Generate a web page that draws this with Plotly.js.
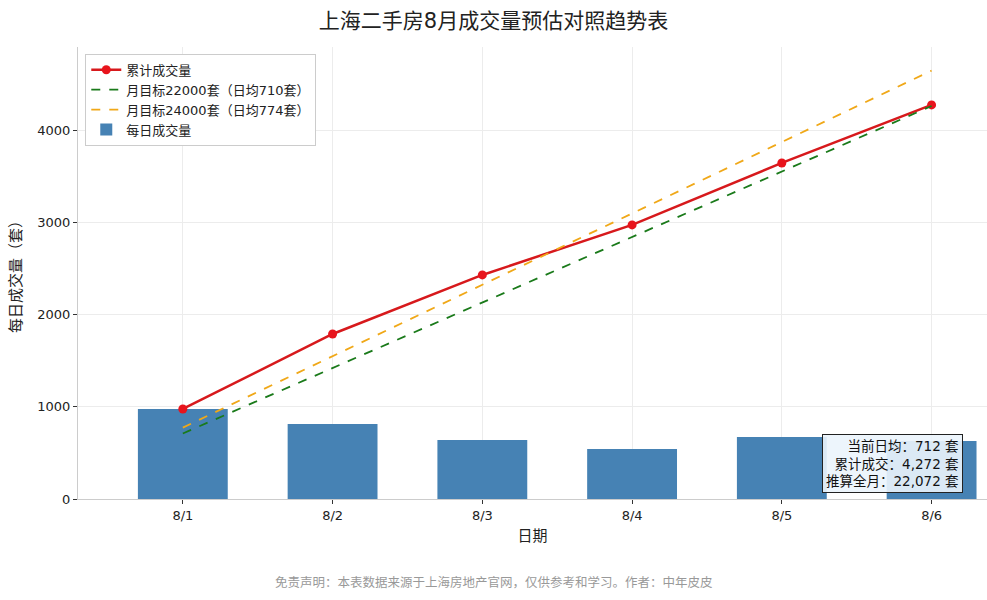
<!DOCTYPE html>
<html>
<head>
<meta charset="utf-8">
<script src="https://cdn.plot.ly/plotly-3.0.1.min.js"></script>
<style>
  html, body { margin: 0; padding: 0; background: #fff; }
  #chart { width: 987px; height: 600px; }
</style>
</head>
<body>
<div id="chart"></div>
<script>
const dates = ['8/1', '8/2', '8/3', '8/4', '8/5', '8/6'];
const dailyDeals = [976, 813, 640, 542, 672, 629];
const cumulativeDeals = [976, 1789, 2429, 2971, 3643, 4272];
const target22000 = [710, 1420, 2130, 2840, 3550, 4260];
const target24000 = [774, 1548, 2322, 3096, 3870, 4644];
const yTicks = [0, 1000, 2000, 3000, 4000];

const font = 'DejaVu Sans, "Noto Sans CJK SC", sans-serif';

const data = [
    {
        x: dates, y: cumulativeDeals,
        name: '累计成交量',
        type: 'scatter', mode: 'lines+markers',
        line: { color: '#d7191c', width: 2.5 },
        marker: { color: '#e8141c', size: 9 }
    },
    {
        x: dates, y: target22000,
        name: '月目标22000套（日均710套）',
        type: 'scatter', mode: 'lines',
        line: { color: '#1a7a1a', width: 1.8, dash: 'dash' }
    },
    {
        x: dates, y: target24000,
        name: '月目标24000套（日均774套）',
        type: 'scatter', mode: 'lines',
        line: { color: '#f0a818', width: 1.8, dash: 'dash' }
    },
    {
        x: dates, y: dailyDeals,
        name: '每日成交量',
        type: 'bar', width: 0.6,
        marker: { color: '#4682b4' }
    }
];

const layout = {
    width: 987, height: 600,
    margin: { l: 78, r: 0, t: 47, b: 101 },
    paper_bgcolor: '#fff',
    plot_bgcolor: '#fff',
    font: { family: font, size: 13, color: '#222' },
    title: {
        text: '上海二手房8月成交量预估对照趋势表',
        font: { size: 21, color: '#222' },
        x: 0.5, xanchor: 'center', y: 0.965, yanchor: 'middle'
    },
    xaxis: {
        type: 'category',
        range: [-0.7, 5.37],
        title: { text: '日期', font: { size: 15 }, standoff: 8 },
        showgrid: true, gridcolor: '#ececec',
        showline: true, linecolor: '#cccccc', linewidth: 1,
        ticks: 'outside', ticklen: 4, tickcolor: '#333',
        zeroline: false
    },
    yaxis: {
        range: [0, 4900],
        tickvals: yTicks,
        title: { text: '每日成交量（套）', font: { size: 15 }, standoff: 12 },
        showgrid: true, gridcolor: '#ececec',
        showline: true, linecolor: '#cccccc', linewidth: 1,
        ticks: 'outside', ticklen: 4, tickcolor: '#333',
        zeroline: false
    },
    showlegend: true,
    legend: {
        x: 0.008, y: 0.985, xanchor: 'left', yanchor: 'top',
        bgcolor: '#fff', bordercolor: '#cccccc', borderwidth: 1,
        font: { size: 13 },
        traceorder: 'normal',
        tracegroupgap: 0
    },
    annotations: [
        {
            xref: 'paper', yref: 'paper',
            x: 0.974, y: 0.013, xanchor: 'right', yanchor: 'bottom',
            text: '当前日均：712 套<br>累计成交：4,272 套<br>推算全月：22,072 套',
            align: 'right', showarrow: false,
            font: { size: 13.5, color: '#111' },
            bgcolor: 'rgba(235,244,252,0.9)',
            bordercolor: '#222', borderwidth: 1, borderpad: 3
        },
        {
            xref: 'paper', yref: 'paper',
            x: 0.458, y: -0.185, xanchor: 'center', yanchor: 'middle',
            text: '免责声明：本表数据来源于上海房地产官网，仅供参考和学习。作者：中年皮皮',
            showarrow: false,
            font: { size: 12.5, color: '#999' }
        }
    ]
};

Plotly.newPlot('chart', data, layout, { displayModeBar: false });
</script>
</body>
</html>
